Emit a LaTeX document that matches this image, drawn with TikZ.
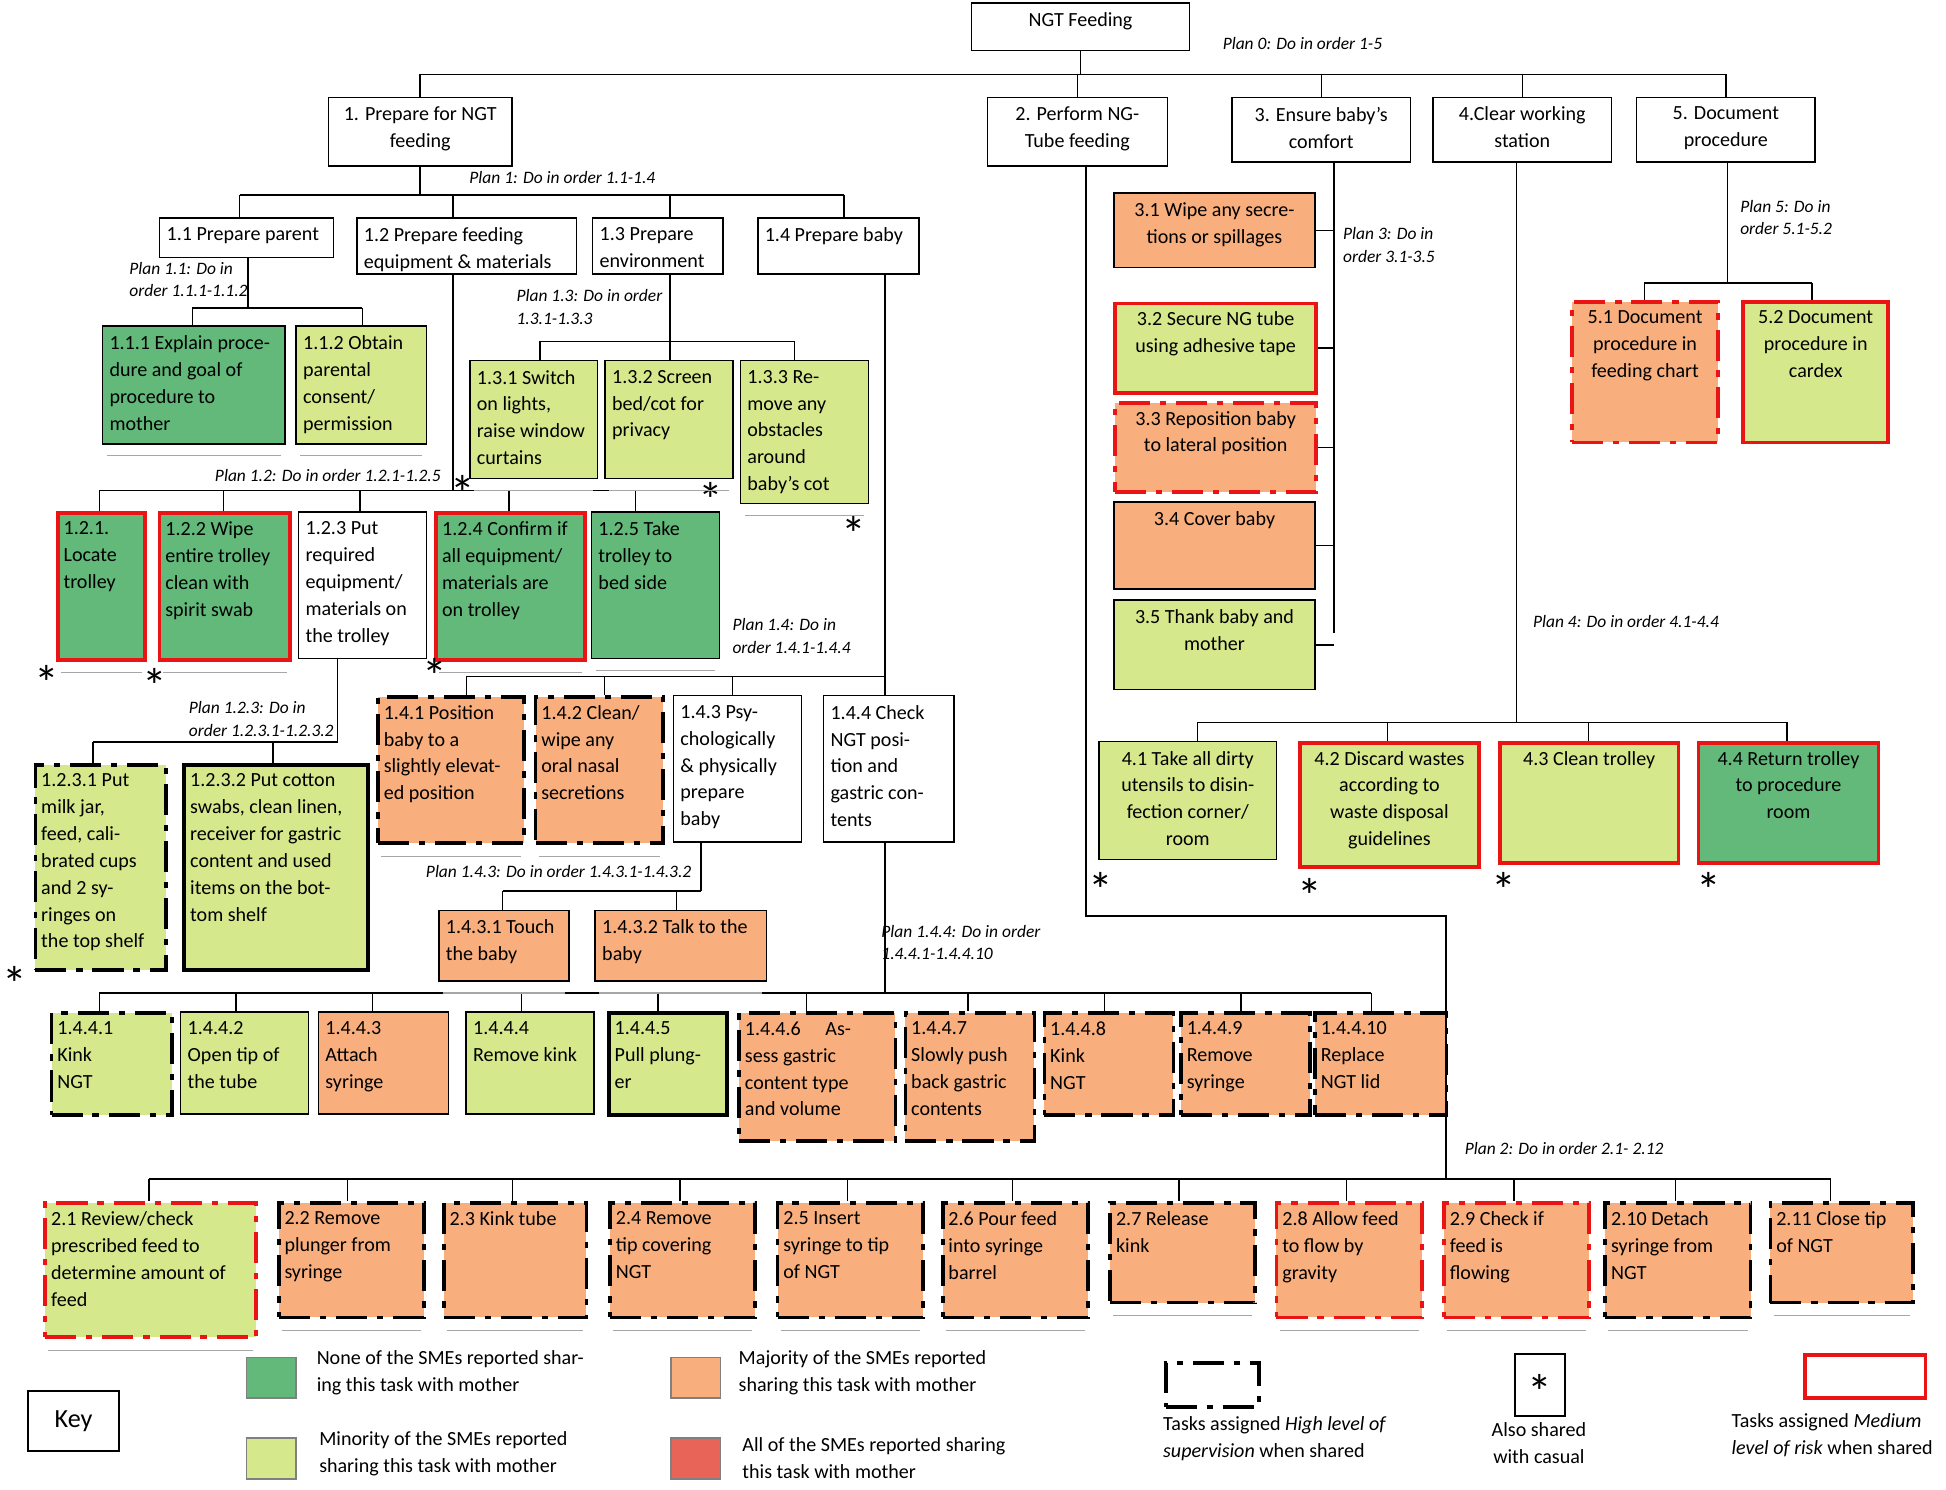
\documentclass[tikz,border=0pt]{standalone}
\usepackage{fontspec}
\setmainfont{Carlito}
\usetikzlibrary{calc}
\newlength{\uu}\setlength{\uu}{0.3mm}
\definecolor{dg}{RGB}{98,185,122}
\definecolor{lg}{RGB}{213,232,140}
\definecolor{og}{RGB}{248,174,125}
\definecolor{rd}{RGB}{232,100,88}
\definecolor{rl}{RGB}{235,20,20}
\tikzset{
 box/.style={draw=black,line width=1pt,inner sep=0pt},
 R/.style={draw=rl,line width=2.6pt},
 HS/.style={draw=black,line width=2.6pt,dash pattern=on 7.5mm off 2.4mm on 1.5mm off 2.4mm},
 RHS/.style={draw=rl,line width=2.6pt,dash pattern=on 7.5mm off 2.4mm on 1.5mm off 2.4mm},
 TK/.style={draw=black,line width=2.6pt},
 txt/.style={inner sep=0pt,font=\fontsize{13.8}{18.5}\selectfont},
 plan/.style={inner sep=0pt,align=left,anchor=north west,font=\fontsize{12}{15.5}\selectfont\itshape},
 ln/.style={line width=1pt},
 ul/.style={draw=gray!70,line width=1pt},
 st/.style={inner sep=0pt,font=\fontsize{34}{34}\selectfont}
}
\newcommand\tb[7]{\node[box,#6,minimum width=#4\uu,minimum height=#5\uu,anchor=north west] (#1) at (#2,-#3) {};
 \node[txt,align=left,anchor=north west] at ($(#1.north west)+(6,-8)$) {#7};}
\newcommand\tc[7]{\node[box,#6,minimum width=#4\uu,minimum height=#5\uu,anchor=north west] (#1) at (#2,-#3) {};
 \node[txt,align=center,anchor=north] at ($(#1.north)+(0,-8)$) {#7};}
\newcommand\ulin[1]{\draw[ul] ($(#1.south west)+(4,-9)$) -- ($(#1.south east)+(-4,-9)$);}
\newcommand\sta[3]{\node[st] (#1) at (#2,-#3) {*};}
\begin{document}
\begin{tikzpicture}[x=0.3mm,y=0.3mm]
\useasboundingbox (0,0) rectangle (1568,-1200);
% root and level 1
\tc{r}{782}{2}{176}{38}{}{NGT Feeding}
\node[plan] at (985,-30) {Plan 0: Do in order 1-5};
\tc{n1}{264}{78}{148}{55}{}{1. Prepare for NGT\\feeding}
\tc{n2}{795}{78}{145}{55}{}{2. Perform NG-\\Tube feeding}
\tc{n3}{992}{78}{144}{52}{}{3. Ensure baby’s\\comfort}
\tc{n4}{1154}{78}{144}{52}{}{4.Clear working\\station}
\tc{n5}{1318}{78}{144}{52}{}{5. Document\\procedure}
\draw[ln] (r.south) -- (r.south |- 0,-60);
\foreach \c in {n1,n2,n3,n4,n5} \draw[ln] (r.south |- 0,-60) -| (\c.north);
% level 1.x
\node[plan] at (378,-138) {Plan 1: Do in order 1.1-1.4};
\tb{n11}{128}{175}{140}{32}{}{1.1 Prepare parent}
\tb{n12}{287}{175}{177}{45}{}{1.2 Prepare feeding\\equipment \& materials}
\tb{n13}{477}{175}{105}{45}{}{1.3 Prepare\\environment}
\tb{n14}{610}{175}{130}{45}{}{1.4 Prepare baby}
\draw[ln] (n1.south) -- (n1.south |- 0,-157);
\draw[ln] (193,-157) -- (680,-157);
\foreach \c/\x in {n11/193,n12/365,n13/540,n14/680} \draw[ln] (\x,-157) -- (\c.north -| \x,0);
% 1.1
\node[plan] at (104,-211) {Plan 1.1: Do in\\order 1.1.1-1.1.2};
\tb{n111}{82}{262}{147}{95}{fill=dg}{1.1.1 Explain proce-\\dure and goal of\\procedure to\\mother}
\tb{n112}{238}{262}{105}{95}{fill=lg}{1.1.2 Obtain\\parental\\consent/\\permission}
\draw[ln] (n11.south -| 200,0) -- (200,-248);
\draw[ln] (155,-248) -- (292,-248);
\draw[ln] (155,-248) -- (n111.north -| 155,0);
\draw[ln] (292,-248) -- (n112.north -| 292,0);
% 1.2
\node[plan] at (173,-378) {Plan 1.2: Do in order 1.2.1-1.2.5};
\tb{n121}{45}{412}{70}{118}{fill=dg,R}{1.2.1.\\Locate\\trolley}
\tb{n122}{127}{412}{105}{118}{fill=dg,R}{1.2.2 Wipe\\entire trolley\\clean with\\spirit swab}
\tb{n123}{240}{412}{103}{118}{}{1.2.3 Put\\required\\equipment/\\materials on\\the trolley}
\tb{n124}{350}{412}{120}{118}{fill=dg,R}{1.2.4 Confirm if\\all equipment/\\materials are\\on trolley}
\tb{n125}{476}{412}{103}{118}{fill=dg}{1.2.5 Take\\trolley to\\bed side}
\draw[ln] (n12.south -| 365,0) -- (365,-395);
\draw[ln] (80,-395) -- (512,-395);
\foreach \c/\x in {n121/80,n122/180,n123/290,n124/410,n125/512} \draw[ln] (\x,-395) -- (\c.north -| \x,0);
\sta{s121}{38}{550}\sta{s122}{125}{553}\sta{s124}{350}{545}
% 1.2.3
\node[plan] at (152,-565) {Plan 1.2.3: Do in\\order 1.2.3.1-1.2.3.2};
\tb{n1231}{27}{615}{105}{165}{fill=lg,HS}{1.2.3.1 Put\\milk jar,\\feed, cali-\\brated cups\\and 2 sy-\\ringes on\\the top shelf}
\tb{n1232}{147}{615}{148}{165}{fill=lg,TK}{1.2.3.2 Put cotton\\swabs, clean linen,\\receiver for gastric\\content and used\\items on the bot-\\tom shelf}
\draw[ln] (n123.south -| 272,0) -- (272,-598);
\draw[ln] (75,-598) -- (272,-598);
\draw[ln] (75,-598) -- (n1231.north -| 75,0);
\draw[ln] (220,-598) -- (n1232.north -| 220,0);
\sta{s1231}{12}{793}
% 1.3
\node[plan] at (416,-233) {Plan 1.3: Do in order\\1.3.1-1.3.3};
\tb{n131}{378}{290}{103}{95}{fill=lg}{1.3.1 Switch\\on lights,\\raise window\\curtains}
\tb{n132}{487}{290}{103}{95}{fill=lg}{1.3.2 Screen\\bed/cot for\\privacy}
\tb{n133}{596}{290}{103}{115}{fill=lg}{1.3.3 Re-\\move any\\obstacles\\around\\baby’s cot}
\draw[ln] (n13.south -| 540,0) -- (540,-275);
\draw[ln] (435,-275) -- (640,-275);
\foreach \c/\x in {n131/435,n132/540,n133/640} \draw[ln] (\x,-275) -- (\c.north -| \x,0);
\sta{s131}{373}{397}\sta{s132}{573}{403}\sta{s133}{688}{430}
% 1.4
\node[plan] at (590,-498) {Plan 1.4: Do in\\order 1.4.1-1.4.4};
\tb{n141}{303}{560}{118}{118}{fill=og,HS}{1.4.1 Position\\baby to a\\slightly elevat-\\ed position}
\tb{n142}{430}{560}{103}{118}{fill=og,HS}{1.4.2 Clean/\\wipe any\\oral nasal\\secretions}
\tb{n143}{542}{560}{103}{118}{}{1.4.3 Psy-\\chologically\\\& physically\\prepare\\baby}
\tb{n144}{663}{560}{105}{118}{}{1.4.4 Check\\NGT posi-\\tion and\\gastric con-\\tents}
\draw[ln] (n14.south -| 713,0) -- (713,-545);
\draw[ln] (376,-545) -- (713,-545);
\foreach \c/\x in {n141/376,n142/487,n143/590,n144/713} \draw[ln] (\x,-545) -- (\c.north -| \x,0);
% 1.4.3
\node[plan] at (343,-697) {Plan 1.4.3: Do in order 1.4.3.1-1.4.3.2};
\tb{n1431}{353}{733}{105}{57}{fill=og}{1.4.3.1 Touch\\the baby}
\tb{n1432}{479}{733}{138}{57}{fill=og}{1.4.3.2 Talk to the\\baby}
\draw[ln] (n143.south -| 565,0) -- (565,-718);
\draw[ln] (405,-718) -- (565,-718);
\draw[ln] (405,-718) -- (n1431.north -| 405,0);
\draw[ln] (545,-718) -- (n1432.north -| 545,0);
% 1.4.4
\node[plan] at (710,-745) {Plan 1.4.4: Do in order\\1.4.4.1-1.4.4.10};
\tb{a1}{40}{815}{97}{82}{fill=lg,HS}{1.4.4.1\\Kink\\NGT}
\tb{a2}{145}{815}{103}{82}{fill=lg}{1.4.4.2\\Open tip of\\the tube}
\tb{a3}{256}{815}{105}{82}{fill=og}{1.4.4.3\\Attach\\syringe}
\tb{a4}{375}{815}{103}{82}{fill=lg}{1.4.4.4\\Remove kink}
\tb{a5}{489}{815}{95}{82}{fill=lg,TK}{1.4.4.5\\Pull plung-\\er}
\tb{a6}{594}{815}{126}{103}{fill=og,HS}{1.4.4.6 \quad As-\\sess gastric\\content type\\and volume}
\tb{a7}{728}{815}{104}{103}{fill=og,HS}{1.4.4.7\\Slowly push\\back gastric\\contents}
\tb{a8}{840}{815}{104}{82}{fill=og,HS}{1.4.4.8\\Kink\\NGT}
\tb{a9}{950}{815}{104}{82}{fill=og,HS}{1.4.4.9\\Remove\\syringe}
\tb{a10}{1058}{815}{106}{82}{fill=og,HS}{1.4.4.10\\Replace\\NGT lid}
\draw[ln] (n144.south -| 713,0) -- (713,-800);
\draw[ln] (80,-800) -- (1105,-800);
\foreach \c/\x in {a1/80,a2/190,a3/300,a4/420,a5/530,a6/650,a7/780,a8/890,a9/1000,a10/1105} \draw[ln] (\x,-800) -- (\c.north -| \x,0);
% Task 2
\node[plan] at (1180,-920) {Plan 2: Do in order 2.1- 2.12};
\tb{b1}{35}{968}{170}{108}{fill=lg,RHS}{2.1 Review/check\\prescribed feed to\\determine amount of\\feed}
\tb{b2}{223}{968}{117}{92}{fill=og,HS}{2.2 Remove\\plunger from\\syringe}
\tb{b3}{356}{968}{115}{92}{fill=og,HS}{2.3 Kink tube}
\tb{b4}{490}{968}{117}{92}{fill=og,HS}{2.4 Remove\\tip covering\\NGT}
\tb{b5}{625}{968}{117}{92}{fill=og,HS}{2.5 Insert\\syringe to tip\\of NGT}
\tb{b6}{758}{968}{117}{92}{fill=og,HS}{2.6 Pour feed\\into syringe\\barrel}
\tb{b7}{893}{968}{117}{80}{fill=og,HS}{2.7 Release\\kink}
\tb{b8}{1027}{968}{117}{92}{fill=og,RHS}{2.8 Allow feed\\to flow by\\gravity}
\tb{b9}{1162}{968}{117}{92}{fill=og,RHS}{2.9 Check if\\feed is\\flowing}
\tb{b10}{1292}{968}{117}{92}{fill=og,HS}{2.10 Detach\\syringe from\\NGT}
\tb{b11}{1425}{968}{115}{80}{fill=og,HS}{2.11 Close tip\\of NGT}
\draw[ln] (n2.south -| 875,0) -- (875,-738) -- (1165,-738) -- (1165,-950);
\draw[ln] (120,-950) -- (1475,-950);
\foreach \c/\x in {b1/120,b2/280,b3/413,b4/548,b5/683,b6/816,b7/950,b8/1085,b9/1220,b10/1350,b11/1475} \draw[ln] (\x,-950) -- (\c.north -| \x,0);
% Task 3
\node[plan] at (1082,-183) {Plan 3: Do in\\order 3.1-3.5};
\tc{c1}{897}{155}{162}{60}{fill=og}{3.1 Wipe any secre-\\tions or spillages}
\tc{c2}{897}{243}{162}{72}{fill=lg,R}{3.2 Secure NG tube\\using adhesive tape}
\tc{c3}{897}{323}{162}{72}{fill=og,RHS}{3.3 Reposition baby\\to lateral position}
\tc{c4}{897}{404}{162}{70}{fill=og}{3.4 Cover baby}
\tc{c5}{897}{483}{162}{72}{fill=lg}{3.5 Thank baby and\\mother}
\draw[ln] (n3.south -| 1075,0) -- (1075,-510);
\foreach \c in {c1,c2,c3,c4,c5} \draw[ln] (\c.east) -- (\c.east -| 1075,0);
% Task 4
\node[plan] at (1235,-496) {Plan 4: Do in order 4.1-4.4};
\tc{d1}{885}{597}{143}{95}{fill=lg}{4.1 Take all dirty\\utensils to disin-\\fection corner/\\room}
\tc{d2}{1046}{597}{144}{100}{fill=lg,R}{4.2 Discard wastes\\according to\\waste disposal\\guidelines}
\tc{d3}{1207}{597}{144}{97}{fill=lg,R}{4.3 Clean trolley}
\tc{d4}{1367}{597}{145}{97}{fill=dg,R}{4.4 Return trolley\\to procedure\\room}
\draw[ln] (n4.south -| 1222,0) -- (1222,-582);
\draw[ln] (965,-582) -- (1440,-582);
\foreach \c/\x in {d1/965,d2/1118,d3/1280,d4/1440} \draw[ln] (\x,-582) -- (\c.north -| \x,0);
\sta{s41}{887}{717}\sta{s42}{1055}{722}\sta{s43}{1212}{717}\sta{s44}{1377}{717}
% Task 5
\node[plan] at (1402,-161) {Plan 5: Do in\\order 5.1-5.2};
\tc{e1}{1265}{242}{118}{113}{fill=og,RHS}{5.1 Document\\procedure in\\feeding chart}
\tc{e2}{1403}{242}{117}{113}{fill=lg,R}{5.2 Document\\procedure in\\cardex}
\draw[ln] (n5.south -| 1392,0) -- (1392,-228);
\draw[ln] (1325,-228) -- (1460,-228);
\draw[ln] (1325,-228) -- (e1.north -| 1325,0);
\draw[ln] (1460,-228) -- (e2.north -| 1460,0);
% underlines
\foreach \n in {n111,n112,n121,n122,n124,n125,n131,n132,n133,n141,n142,n1431,n1432,b1,b2,b3,b4,b5,b6,b7,b8,b9,b10,b11} {\ulin{\n}}
% Key
\node[box,line width=1.4pt,minimum width=73\uu,minimum height=48\uu,anchor=north west,txt,font=\fontsize{18}{20}\selectfont] (key) at (22,-1120) {Key};
\node[box,fill=dg,draw=gray,minimum width=40\uu,minimum height=33\uu,anchor=north west] (k1) at (198,-1093) {};
\node[txt,align=left,anchor=north west] at (255,-1088) {None of the SMEs reported shar-\\ing this task with mother};
\node[box,fill=lg,draw=gray,minimum width=40\uu,minimum height=33\uu,anchor=north west] (k2) at (198,-1158) {};
\node[txt,align=left,anchor=north west] at (257,-1153) {Minority of the SMEs reported\\sharing this task with mother};
\node[box,fill=og,draw=gray,minimum width=40\uu,minimum height=33\uu,anchor=north west] (k3) at (540,-1093) {};
\node[txt,align=left,anchor=north west] at (595,-1088) {Majority of the SMEs reported\\sharing this task with mother};
\node[box,fill=rd,draw=gray,minimum width=40\uu,minimum height=33\uu,anchor=north west] (k4) at (540,-1158) {};
\node[txt,align=left,anchor=north west] at (598,-1158) {All of the SMEs reported sharing\\this task with mother};
\node[box,HS,minimum width=75\uu,minimum height=35\uu,anchor=north west] (k5) at (938,-1097) {};
\node[txt,align=left,anchor=north west] at (937,-1141) {Tasks assigned \textit{High level of}\\\textit{supervision} when shared};
\node[box,line width=1.4pt,minimum width=40\uu,minimum height=50\uu,anchor=north west] (k6) at (1220,-1090) {};
\node[st] at ($(k6.center)+(0,-6)$) {*};
\node[txt,align=center,anchor=north] at (1240,-1146) {Also shared\\with casual};
\node[box,R,minimum width=97\uu,minimum height=35\uu,anchor=north west] (k7) at (1453,-1090) {};
\node[txt,align=left,anchor=north west] at (1395,-1139) {Tasks assigned \textit{Medium}\\\textit{level of risk} when shared};
\end{tikzpicture}
\end{document}
